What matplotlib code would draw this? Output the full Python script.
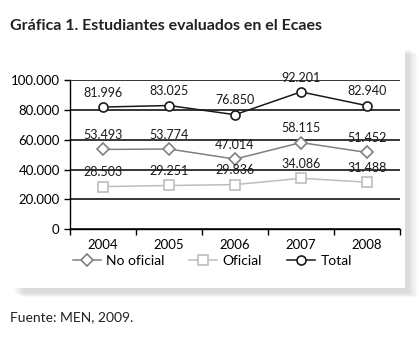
import matplotlib.pyplot as plt
import matplotlib.patches as mpatches
from matplotlib.ticker import FuncFormatter

plt.rcParams['font.family'] = ['Lato', 'DejaVu Sans']

years = ['2004', '2005', '2006', '2007', '2008']
no_oficial = [53493, 53774, 47014, 58115, 51452]
oficial = [28503, 29251, 29836, 34086, 31488]
total = [81996, 83025, 76850, 92201, 82940]

def fmt(v):
    return f'{v:,}'.replace(',', '.')

fig = plt.figure(figsize=(4.2, 3.38), dpi=100)

# soft panel shadow + white panel
for i in range(6):
    d = (6 - i) * 0.004
    fig.patches.append(mpatches.Rectangle((0.03 + d, 0.135 - d * 0.6), 0.94, 0.72,
                                          transform=fig.transFigure,
                                          facecolor='#000000', alpha=0.025,
                                          edgecolor='none', zorder=0))
fig.patches.append(mpatches.Rectangle((0.0, 0.148), 0.965, 0.71,
                                      transform=fig.transFigure,
                                      facecolor='white', edgecolor='none', zorder=1))

ax = fig.add_axes([0.167, 0.3225, 0.785, 0.44])
ax.set_zorder(5)
ax.set_facecolor('none')
x = list(range(len(years)))

ax.plot(x, no_oficial, color='#808080', lw=1.1, marker='D', ms=6.5,
        mfc='white', mec='#808080', mew=1.2, label='No oficial', zorder=3)
ax.plot(x, oficial, color='#bdbdbd', lw=1.1, marker='s', ms=6.5,
        mfc='white', mec='#bdbdbd', mew=1.2, label='Oficial', zorder=3)
ax.plot(x, total, color='#1a1a1a', lw=1.1, marker='o', ms=6.5,
        mfc='white', mec='#1a1a1a', mew=1.2, label='Total', zorder=3)

for series in (no_oficial, oficial, total):
    for xi, v in zip(x, series):
        ax.annotate(fmt(v), (xi, v), xytext=(0, 6), textcoords='offset points',
                    ha='center', va='bottom', fontsize=9, color='#1a1a1a')

ax.set_xlim(-0.5, 4.5)
ax.set_ylim(0, 100000)
ax.set_yticks(range(0, 100001, 20000))
ax.yaxis.set_major_formatter(FuncFormatter(lambda v, p: fmt(int(v))))
ax.grid(axis='y', color='black', lw=1.1)
ax.set_axisbelow(True)
ax.set_xticks([i - 0.5 for i in range(6)], minor=False)
ax.set_xticklabels([])
ax.set_xticks(x, minor=True)
ax.set_xticklabels(years, minor=True)
ax.tick_params(axis='x', which='major', direction='out', length=4, width=1)
ax.tick_params(axis='x', which='minor', length=0, labelsize=9.5, pad=7)
ax.tick_params(axis='y', direction='out', length=4, width=1, labelsize=9.5)
for s in ['top', 'right']:
    ax.spines[s].set_visible(False)
ax.spines['left'].set_linewidth(1)
ax.spines['bottom'].set_linewidth(1)

ax.legend(loc='upper left', bbox_to_anchor=(-0.03, -0.09), ncol=3, frameon=False,
          fontsize=10, handlelength=2.0, columnspacing=1.8, handletextpad=0.4)

fig.text(0.024, 0.91, 'Gráfica 1. Estudiantes evaluados en el Ecaes',
         fontsize=11.5, fontweight='bold', color='#222222')
fig.text(0.024, 0.05, 'Fuente: MEN, 2009.', fontsize=10, color='#222222')

fig.savefig('out.png', dpi=100)
